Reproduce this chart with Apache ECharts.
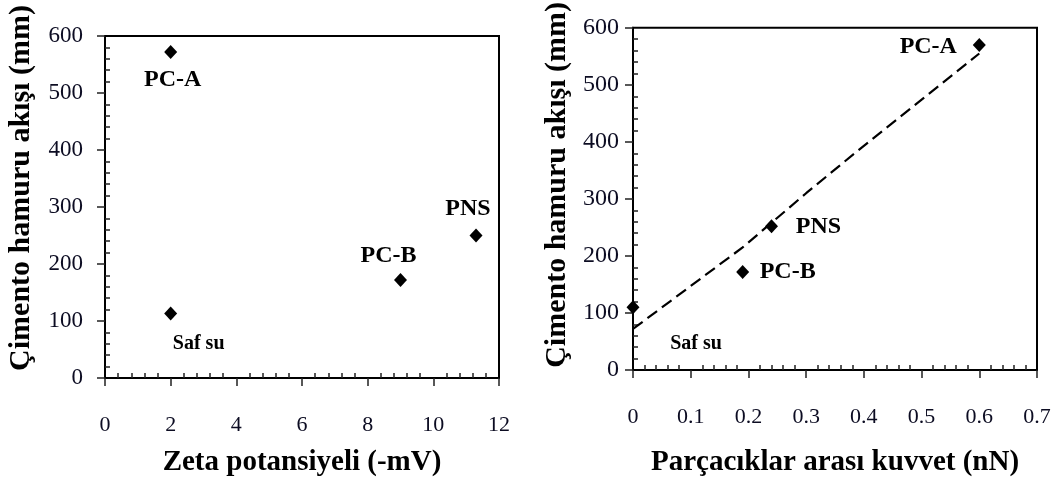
<!DOCTYPE html>
<html>
<head>
<meta charset="utf-8">
<script src="https://cdn.jsdelivr.net/npm/echarts@6/dist/echarts.min.js"></script>
<style>
  html, body { margin: 0; padding: 0; background: #fff; }
  #chart { width: 1054px; height: 483px; }
</style>
</head>
<body>
<div id="chart"></div>
<script>
// left panel: zeta potential vs paste flow
const names = ['Saf su', 'PC-A', 'PC-B', 'PNS']
const zeta = [2, 2, 9, 11.3]
const flowLeft = [113, 572, 172, 250]

// right panel: interparticle force vs paste flow
const force = [0, 0.6, 0.19, 0.24]
const flowRight = [110, 570, 172, 252]

// dashed trend line (right panel)
const trendX = [0, 0.19, 0.3, 0.39, 0.6]
const trendY = [72, 215, 310, 385, 555]

const yTicks = [0, 100, 200, 300, 400, 500, 600]

const serif = '"Liberation Serif", "DejaVu Serif", serif'
const ink = '#0c0c22'

// label offsets from each point (style only)
const leftLabelOffset = {
  'Saf su': [28, 30], 'PC-A': [2, 28], 'PC-B': [-12, -24], 'PNS': [-8, -27]
}
const rightLabelOffset = {
  'Saf su': [63, 37], 'PC-A': [-51, 2], 'PC-B': [45, 0], 'PNS': [47, 1]
}

const pointData = (xs, ys, offsets) => names.map((n, i) => ({
  name: n,
  value: [xs[i], ys[i]],
  label: {
    show: true,
    position: 'inside',
    offset: offsets[n],
    formatter: n,
    fontFamily: serif,
    fontWeight: 'bold',
    fontSize: n === 'Saf su' ? 20 : 24,
    color: '#000',
    textBorderWidth: 0,
    opacity: 1
  }
}))

const xAxisBase = (gridIndex, max, interval, name, fmt, labelMargin, nameGap) => ({
  gridIndex,
  type: 'value',
  min: 0,
  max,
  interval,
  name,
  nameLocation: 'middle',
  nameGap,
  nameTextStyle: { fontFamily: serif, fontWeight: 'bold', fontSize: 29, color: '#000' },
  axisLine: { show: true, onZero: false, lineStyle: { color: '#000', width: 2 } },
  axisTick: { show: true, inside: true, length: -8, lineStyle: { color: '#222', width: 1.5 } },
  minorTick: { show: true, splitNumber: 5, length: 5, lineStyle: { color: '#222', width: 1.5 } },
  axisLabel: { margin: labelMargin, fontFamily: serif, fontSize: 22, color: ink, formatter: fmt },
  splitLine: { show: false }
})

const yAxisBase = (gridIndex, labelMargin, nameGap, namePad, fontSize) => ({
  gridIndex,
  type: 'value',
  min: yTicks[0],
  max: yTicks[yTicks.length - 1],
  interval: 100,
  name: 'Çimento hamuru akışı (mm)',
  nameLocation: 'middle',
  nameRotate: 90,
  nameGap,
  nameTextStyle: {
    fontFamily: serif, fontWeight: 'bold', fontSize: 30, color: '#000',
    padding: [0, 0, 0, namePad]
  },
  axisLine: { show: true, onZero: false, lineStyle: { color: '#000', width: 2 } },
  axisTick: { show: true, inside: true, length: -8, lineStyle: { color: '#222', width: 1.5 } },
  minorTick: { show: true, splitNumber: 5, length: 5, lineStyle: { color: '#222', width: 1.5 } },
  axisLabel: { margin: labelMargin, fontFamily: serif, fontSize: fontSize, color: ink },
  splitLine: { show: false }
})

const scatterStyle = { color: '#000', opacity: 1 }

const option = {
  animation: false,
  backgroundColor: '#fff',
  grid: [
    { left: 105, top: 36, width: 394, height: 342, show: true, borderColor: '#000', borderWidth: 2 },
    { left: 633, top: 24, width: 404, height: 346, show: true, borderColor: '#000', borderWidth: 2 }
  ],
  xAxis: [
    xAxisBase(0, 12, 2, 'Zeta potansiyeli (-mV)', v => String(v), 36, 70),
    xAxisBase(1, 0.7, 0.1, 'Parçacıklar arası kuvvet (nN)', v => (v === 0 ? '0' : v.toFixed(1)), 36, 78)
  ],
  yAxis: [
    yAxisBase(0, 22, 69, 38, 23),
    yAxisBase(1, 14, 61, 28, 24)
  ],
  series: [
    {
      type: 'scatter',
      xAxisIndex: 0,
      yAxisIndex: 0,
      symbol: 'diamond',
      symbolSize: [13, 14],
      itemStyle: scatterStyle,
      data: pointData(zeta, flowLeft, leftLabelOffset)
    },
    {
      type: 'line',
      xAxisIndex: 1,
      yAxisIndex: 1,
      symbol: 'none',
      lineStyle: { color: '#000', width: 2.2, type: [12, 6] },
      data: trendX.map((x, i) => [x, trendY[i]]),
      z: 1
    },
    {
      type: 'scatter',
      xAxisIndex: 1,
      yAxisIndex: 1,
      symbol: 'diamond',
      symbolSize: [13, 14],
      itemStyle: scatterStyle,
      data: pointData(force, flowRight, rightLabelOffset),
      z: 3
    }
  ]
}

const chart = echarts.init(document.getElementById('chart'))
chart.setOption(option)
</script>
</body>
</html>
